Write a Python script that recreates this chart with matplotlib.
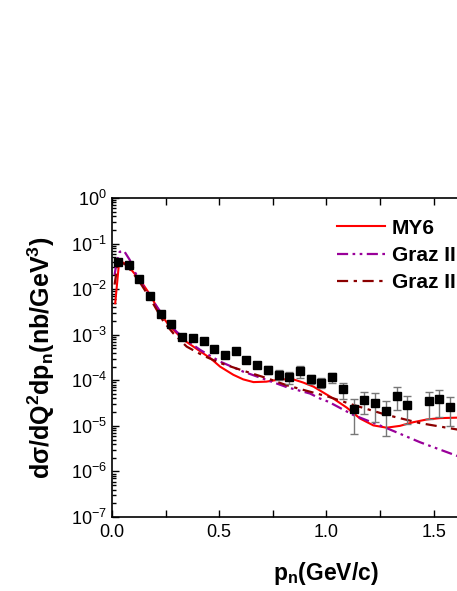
import matplotlib
matplotlib.use("Agg")
import matplotlib.pyplot as plt
from matplotlib.ticker import MultipleLocator, LogLocator, NullFormatter
import numpy as np

plt.rcParams['font.family'] = ['Liberation Sans', 'DejaVu Sans']
plt.rcParams['mathtext.fontset'] = 'custom'
plt.rcParams['mathtext.rm'] = 'Liberation Sans'
plt.rcParams['mathtext.bf'] = 'Liberation Sans:bold'
plt.rcParams['mathtext.it'] = 'Liberation Sans:italic'

# data points (p_n in GeV/c, cross section in nb/GeV^3)
p_data = [0.028, 0.077, 0.127, 0.177, 0.227, 0.277, 0.327, 0.377, 0.427, 0.477,
          0.527, 0.577, 0.627, 0.677, 0.727, 0.777, 0.827, 0.877, 0.927, 0.977,
          1.027, 1.077, 1.127, 1.177, 1.227, 1.277, 1.327, 1.377, 1.477, 1.527,
          1.577]
sigma_data = [0.040, 0.034, 0.0166, 0.0069, 0.0029, 0.0017, 9.1e-4, 8.3e-4, 7.1e-4, 4.9e-4,
              3.5e-4, 4.3e-4, 2.8e-4, 2.2e-4, 1.7e-4, 1.32e-4, 1.17e-4, 1.58e-4, 1.07e-4, 8.9e-5,
              1.17e-4, 6.3e-5, 2.3e-5, 3.7e-5, 3.2e-5, 2.1e-5, 4.6e-5, 2.8e-5, 3.5e-5, 3.9e-5,
              2.6e-5]
sigma_err = [0.003, 0.0025, 0.0012, 0.0005, 0.0002, 0.00012, 6e-5, 6e-5, 5e-5, 4e-5,
             3e-5, 3.5e-5, 3e-5, 3.5e-5, 3.4e-5, 3.3e-5, 3.3e-5, 4.8e-5, 2.2e-5, 2.1e-5,
             3e-5, 2.5e-5, 1.65e-5, 1.9e-5, 2.0e-5, 1.5e-5, 2.4e-5, 1.7e-5, 2.1e-5, 2.3e-5,
             1.6e-5]

# MY6 curve (log10 of cross section)
p_my6 = [0.015, 0.023, 0.031, 0.043, 0.067, 0.098, 0.137, 0.18, 0.224, 0.27,
         0.333, 0.41, 0.46, 0.504, 0.566, 0.612, 0.66, 0.72, 0.784, 0.846,
         0.892, 0.94, 0.986, 1.032, 1.095, 1.157, 1.219, 1.281, 1.343, 1.405,
         1.468, 1.53, 1.61]
log_my6 = [-2.31, -1.91, -1.51, -1.40, -1.45, -1.62, -1.84, -2.14, -2.53, -2.82,
           -3.11, -3.36, -3.52, -3.70, -3.88, -3.98, -4.04, -4.03, -3.98, -3.98,
           -4.05, -4.14, -4.27, -4.40, -4.60, -4.84, -4.99, -5.04, -5.00, -4.92,
           -4.86, -4.83, -4.82]

# Graz II (dash-dot-dot, purple)
p_graz_a = [0.012, 0.022, 0.036, 0.056, 0.083, 0.106, 0.152, 0.2, 0.25, 0.3,
            0.35, 0.41, 0.504, 0.612, 0.72, 0.815, 0.923, 0.97, 1.009, 1.125,
            1.281, 1.437, 1.61]
log_graz_a = [-1.69, -1.40, -1.18, -1.16, -1.36, -1.62, -1.98, -2.32, -2.66, -2.93,
              -3.13, -3.33, -3.59, -3.81, -3.99, -4.15, -4.29, -4.40, -4.47, -4.76,
              -5.05, -5.36, -5.66]

# Graz II (dash-dot, dark red)
p_graz_b = [0.012, 0.025, 0.04, 0.06, 0.09, 0.13, 0.18, 0.24, 0.286, 0.348,
            0.426, 0.504, 0.612, 0.72, 0.815, 0.923, 1.009, 1.125, 1.281, 1.437,
            1.61]
log_graz_b = [-1.90, -1.50, -1.42, -1.45, -1.60, -1.85, -2.22, -2.71, -2.97, -3.26,
              -3.46, -3.62, -3.79, -3.95, -4.11, -4.25, -4.36, -4.54, -4.76, -4.94,
              -5.08]

W, H = 457, 591
fig = plt.figure(figsize=(W / 100, H / 100), dpi=100)
x0, x1 = 112, 476.5
y0, y1 = 198, 517
ax = fig.add_axes([x0 / W, (H - y1) / H, (x1 - x0) / W, (y1 - y0) / H])

ax.plot(p_my6, 10 ** np.array(log_my6), color='#ff0000', lw=1.5, label='MY6', zorder=3)
ax.plot(p_graz_a, 10 ** np.array(log_graz_a), color='#990099', lw=1.6,
        dashes=[5, 2, 1.2, 2, 1.2, 2], label='Graz II', zorder=3)
ax.plot(p_graz_b, 10 ** np.array(log_graz_b), color='#8b0000', lw=1.6,
        dashes=[5, 2.5, 1.5, 2.5], label='Graz II', zorder=3)

ax.errorbar(p_data, sigma_data, yerr=sigma_err, fmt='s', color='black', ms=5.8,
            ecolor='#777777', elinewidth=1, capsize=3, capthick=1, zorder=4)

ax.set_yscale('log')
ax.set_ylim(1e-7, 1)
ax.set_xlim(0, 1.7)

ax.xaxis.set_major_locator(MultipleLocator(0.5))
ax.xaxis.set_minor_locator(MultipleLocator(0.25))
ax.yaxis.set_major_locator(LogLocator(base=10, numticks=10))
ax.yaxis.set_minor_locator(LogLocator(base=10, subs=np.arange(2, 10), numticks=10))
ax.yaxis.set_minor_formatter(NullFormatter())
ax.tick_params(which='both', direction='in', top=True, right=False, labelsize=13,
               width=1, colors='black')
ax.tick_params(which='major', length=5)
ax.tick_params(axis='x', which='minor', length=5)
ax.tick_params(axis='y', which='minor', length=3)
ax.tick_params(axis='x', pad=5)
for s in ax.spines.values():
    s.set_linewidth(1.2)

ax.set_xlabel(r'p$_\mathbf{n}$(GeV/c)', fontsize=16.5, fontweight='bold')
ax.xaxis.set_label_coords(0.587, -0.135)
ax.set_ylabel(r'd$\mathbf{\sigma}$/dQ$^\mathbf{2}$dp$_\mathbf{n}$(nb/GeV$^\mathbf{3}$)',
              fontsize=18, fontweight='bold', labelpad=10)

leg = ax.legend(loc='upper left', bbox_to_anchor=(0.617, 0.935), frameon=False,
                prop={'size': 15, 'weight': 'bold'}, handlelength=2.3,
                handletextpad=0.35, labelspacing=0.4, borderpad=0,
                borderaxespad=0)

fig.savefig('out.png', dpi=100)
